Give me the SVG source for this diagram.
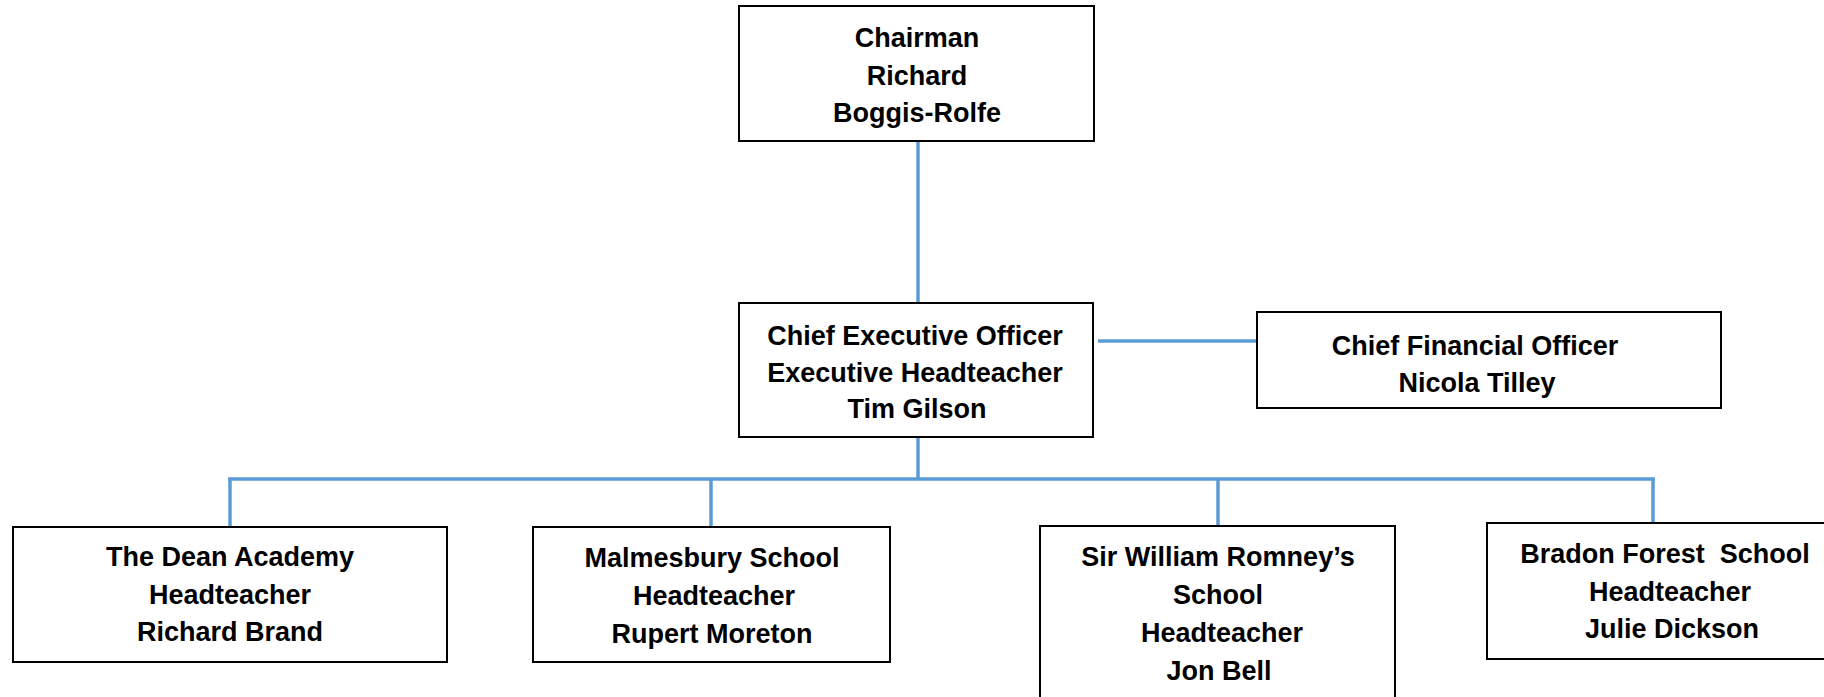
<svg xmlns="http://www.w3.org/2000/svg" width="1824" height="697" viewBox="0 0 1824 697">
<style>
.box{fill:#fff;stroke:#000;stroke-width:2}
.t{font-family:"Liberation Sans",Arial,sans-serif;font-weight:bold;font-size:27px;fill:#000;text-anchor:middle}
.c{fill:none;stroke:#5B9BD5;stroke-width:3.5}
</style>
<rect width="1824" height="697" fill="#fff"/>
<g id="connectors">
<path class="c" d="M918,142 V302"/>
<path class="c" d="M1098,341 H1256"/>
<path class="c" d="M918,437 V479"/>
<path class="c" d="M228,479 H1655"/>
<path class="c" d="M230,479 V526"/>
<path class="c" d="M711,479 V527"/>
<path class="c" d="M1218,479 V526"/>
<path class="c" d="M1653,479 V523"/>
</g>
<g id="chairman">
<rect class="box" x="739" y="6" width="355" height="135"/>
<text class="t" x="917" y="47">Chairman</text>
<text class="t" x="917" y="85">Richard</text>
<text class="t" x="917" y="122">Boggis-Rolfe</text>
</g>
<g id="ceo">
<rect class="box" x="739" y="303" width="354" height="134"/>
<text class="t" x="915" y="345">Chief Executive Officer</text>
<text class="t" x="915" y="382">Executive Headteacher</text>
<text class="t" x="917" y="418">Tim Gilson</text>
</g>
<g id="cfo">
<rect class="box" x="1257" y="312" width="464" height="96"/>
<text class="t" x="1475" y="355">Chief Financial Officer</text>
<text class="t" x="1477" y="392">Nicola Tilley</text>
</g>
<g id="dean">
<rect class="box" x="13" y="527" width="434" height="135"/>
<text class="t" x="230" y="566">The Dean Academy</text>
<text class="t" x="230" y="604">Headteacher</text>
<text class="t" x="230" y="641">Richard Brand</text>
</g>
<g id="malmesbury">
<rect class="box" x="533" y="527" width="357" height="135"/>
<text class="t" x="712" y="567">Malmesbury School</text>
<text class="t" x="714" y="605">Headteacher</text>
<text class="t" x="712" y="643">Rupert Moreton</text>
</g>
<g id="romney">
<rect class="box" x="1040" y="526" width="355" height="185"/>
<text class="t" x="1218" y="566">Sir William Romney’s</text>
<text class="t" x="1218" y="604">School</text>
<text class="t" x="1222" y="642">Headteacher</text>
<text class="t" x="1219" y="680">Jon Bell</text>
</g>
<g id="bradon">
<rect class="box" x="1487" y="523" width="360" height="136"/>
<text class="t" x="1665" y="563" xml:space="preserve">Bradon Forest  School</text>
<text class="t" x="1670" y="601">Headteacher</text>
<text class="t" x="1672" y="638">Julie Dickson</text>
</g>
</svg>
